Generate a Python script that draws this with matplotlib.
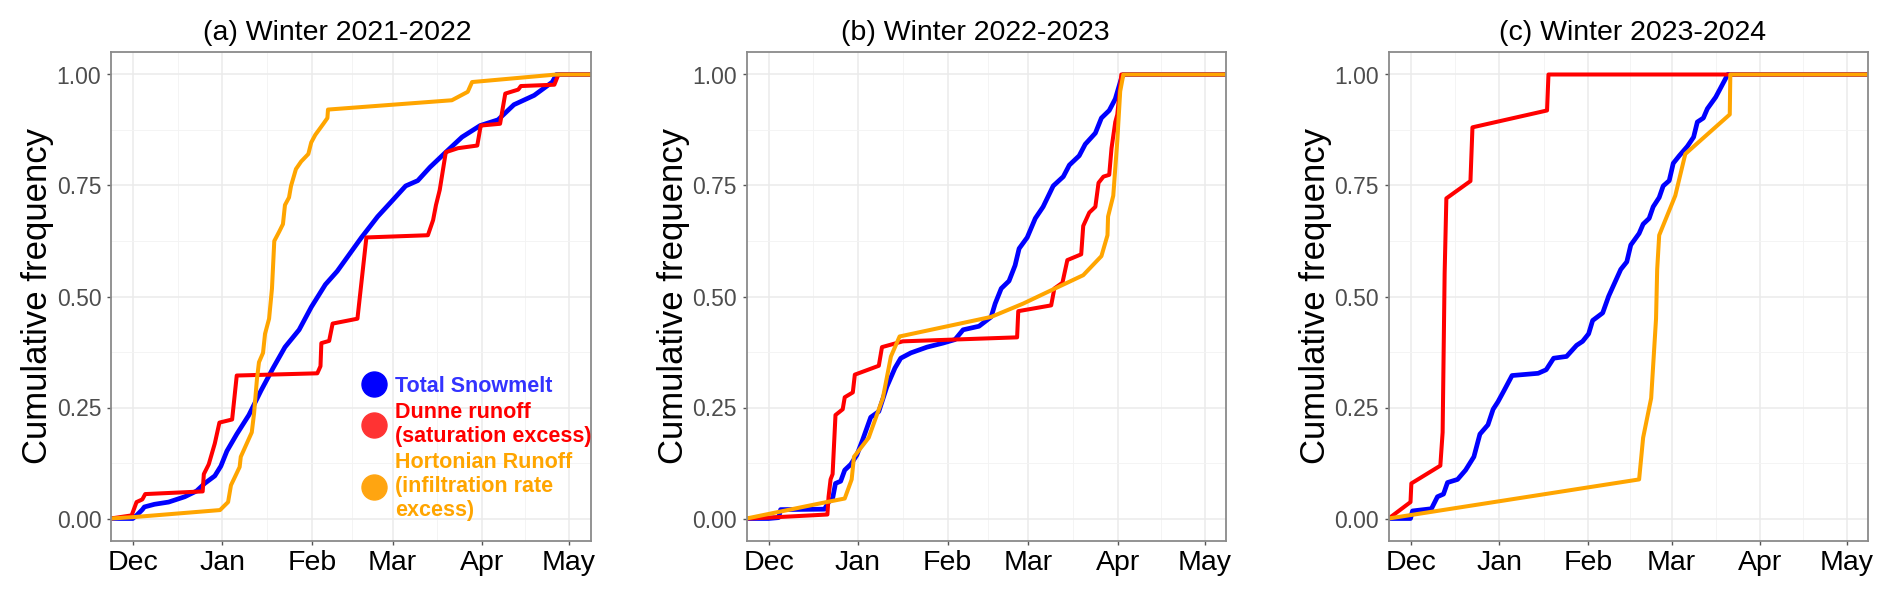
import matplotlib
matplotlib.use("Agg")
import matplotlib.pyplot as plt
from matplotlib.lines import Line2D
import pandas as pd
import numpy as np

plt.rcParams['font.family'] = ['Liberation Sans', 'DejaVu Sans']

# ---------------- data (x = days since 1 December) ----------------
titles = ["(a) Winter 2021-2022", "(b) Winter 2022-2023", "(c) Winter 2023-2024"]
start_years = [2021, 2022, 2023]
month_labels = ["Dec", "Jan", "Feb", "Mar", "Apr", "May"]
series_names = ["Total Snowmelt", "Dunne runoff\n(saturation excess)",
                "Hortonian Runoff\n(infiltration rate\nexcess)"]

# Panel (a)
snow_a_days = [-7.6, 0, 1.3, 3.3, 4, 7.5, 12.4, 18, 22.1, 24.9, 28.4, 30.5, 32.6, 36, 40.2, 44.4, 48.6,
               52.7, 57.6, 61.8, 66.7, 70.8, 75, 79.2, 84.8, 89.6, 94.5, 98.7, 102.9, 108.4, 114,
               120.3, 126.5, 132, 139, 145.3, 146.7, 160]
snow_a_vals = [0, 0, 0.007, 0.02, 0.026, 0.032, 0.037, 0.049, 0.062, 0.079, 0.096, 0.118, 0.152, 0.19,
               0.233, 0.288, 0.339, 0.386, 0.425, 0.476, 0.527, 0.557, 0.595, 0.633, 0.68, 0.714,
               0.749, 0.761, 0.791, 0.825, 0.859, 0.885, 0.898, 0.932, 0.953, 0.983, 1.0, 1.0]
dunne_a_days = [-7.6, -0.4, 1.3, 3.3, 4.3, 24.2, 24.6, 26.3, 28.4, 30, 34.4, 36, 63.9, 65, 65.3, 68,
                69.2, 77.8, 80.9, 102.2, 104, 105, 106.3, 108.4, 112.6, 119.3, 120.5, 127.2, 129,
                133.5, 134.4, 146, 147.4, 160]
dunne_a_vals = [0, 0.007, 0.037, 0.043, 0.055, 0.061, 0.1, 0.122, 0.169, 0.216, 0.223, 0.322, 0.327,
                0.343, 0.395, 0.4, 0.439, 0.45, 0.633, 0.638, 0.672, 0.706, 0.74, 0.825, 0.834, 0.84,
                0.885, 0.889, 0.957, 0.966, 0.974, 0.977, 1.0, 1.0]
horton_a_days = [-7.6, 0, 30.2, 33, 34, 35.4, 37, 37.4, 41.2, 42, 43, 43.7, 45.1, 45.8, 47.2, 48.2, 49,
                 50.7, 52, 52.7, 54.1, 54.8, 56.5, 58.3, 60.8, 61.8, 63.2, 66, 67.4, 67.6, 110.5, 116,
                 117.5, 146.7, 160]
horton_a_vals = [0, 0.003, 0.019, 0.037, 0.075, 0.094, 0.116, 0.139, 0.194, 0.237, 0.314, 0.352,
                 0.373, 0.416, 0.45, 0.518, 0.625, 0.646, 0.663, 0.706, 0.723, 0.749, 0.787, 0.804,
                 0.821, 0.847, 0.864, 0.889, 0.902, 0.921, 0.942, 0.961, 0.983, 1.0, 1.0]

# Panel (b)
snow_b_days = [-7.6, 0, 3.5, 4.2, 19.4, 20.8, 22.2, 23.2, 25, 26.4, 28.5, 30.6, 32.6, 35.4, 38.2, 41,
               43.8, 45.8, 49.3, 54.9, 60.4, 64.6, 67.4, 72.9, 77.1, 78.5, 80.6, 83.3, 85.4, 86.8,
               89.6, 92.4, 95.1, 98.6, 102.1, 104.2, 107.6, 109.7, 113.2, 115.3, 118, 120.1, 122.2,
               122.9, 160]
snow_b_vals = [0, 0, 0.002, 0.02, 0.021, 0.037, 0.045, 0.079, 0.084, 0.109, 0.122, 0.143, 0.177,
               0.228, 0.241, 0.297, 0.339, 0.361, 0.373, 0.386, 0.395, 0.403, 0.425, 0.433, 0.454,
               0.484, 0.518, 0.535, 0.57, 0.608, 0.633, 0.676, 0.702, 0.749, 0.77, 0.796, 0.817,
               0.843, 0.868, 0.902, 0.919, 0.945, 0.991, 1.0, 1.0]
dunne_b_days = [-7.6, 0, 20.4, 20.8, 21.5, 22.2, 23.2, 25.7, 26.4, 29.2, 29.9, 38.2, 39.3, 46.5, 86.1,
                86.5, 97.9, 99, 101.8, 103.5, 108.3, 109, 111.1, 113.2, 114.3, 116, 118, 118.8,
                120.1, 120.8, 122.2, 160]
dunne_b_vals = [0, 0.002, 0.009, 0.049, 0.088, 0.1, 0.233, 0.246, 0.273, 0.284, 0.324, 0.344, 0.386,
                0.399, 0.408, 0.467, 0.48, 0.518, 0.531, 0.582, 0.595, 0.659, 0.689, 0.702, 0.756,
                0.77, 0.774, 0.834, 0.893, 0.91, 1.0, 1.0]
horton_b_days = [-7.6, 20.1, 26.4, 28.8, 29.6, 34.7, 39.6, 42.4, 45.4, 77.1, 88.2, 97.9, 109, 115.3,
                 117.4, 117.6, 119.4, 120.8, 121.8, 122.9, 160]
horton_b_vals = [0, 0.037, 0.045, 0.088, 0.139, 0.182, 0.271, 0.365, 0.41, 0.454, 0.484, 0.514,
                 0.548, 0.591, 0.638, 0.68, 0.727, 0.851, 0.962, 1.0, 1.0]

# Panel (c)
snow_c_days = [-7.6, 0, 0.7, 7.3, 9.4, 11.5, 12.9, 16.4, 19.2, 22.1, 24.2, 27, 28.8, 30.5, 32.6, 35.4,
               44.5, 47.3, 49.9, 54.4, 57.9, 60, 62.1, 63.5, 67, 69.1, 71.2, 73.3, 75.4, 76.8, 79.7,
               81.1, 83.2, 84.6, 86.7, 88.1, 90.2, 91.6, 93.7, 96.5, 98.7, 100, 102.1, 103.5, 106.4,
               107.8, 110.6, 160]
snow_c_vals = [0, 0, 0.017, 0.022, 0.049, 0.055, 0.081, 0.088, 0.109, 0.139, 0.19, 0.211, 0.246,
               0.263, 0.288, 0.322, 0.327, 0.335, 0.361, 0.365, 0.39, 0.399, 0.416, 0.446, 0.463,
               0.501, 0.531, 0.561, 0.578, 0.616, 0.642, 0.663, 0.676, 0.702, 0.723, 0.749, 0.761,
               0.8, 0.817, 0.838, 0.859, 0.893, 0.902, 0.923, 0.949, 0.966, 1.0, 1.0]
dunne_c_days = [-7.6, 0, 0.3, 10.4, 11.2, 11.9, 12.5, 20.9, 21.6, 47.6, 48.1, 160]
dunne_c_vals = [0, 0.037, 0.079, 0.119, 0.194, 0.552, 0.721, 0.76, 0.881, 0.919, 1.0, 1.0]
horton_c_days = [-7.6, 79.7, 81.1, 83.9, 85.6, 86, 86.7, 92.3, 95.8, 111.3, 111.5, 160]
horton_c_vals = [0, 0.088, 0.182, 0.271, 0.45, 0.561, 0.638, 0.727, 0.821, 0.91, 1.0, 1.0]

panels = [
    [(snow_a_days, snow_a_vals), (dunne_a_days, dunne_a_vals), (horton_a_days, horton_a_vals)],
    [(snow_b_days, snow_b_vals), (dunne_b_days, dunne_b_vals), (horton_b_days, horton_b_vals)],
    [(snow_c_days, snow_c_vals), (dunne_c_days, dunne_c_vals), (horton_c_days, horton_c_vals)],
]

line_colors = ["#0000FF", "#FF0000", "#FFA500"]
line_widths = [3.4, 2.9, 2.9]
marker_colors = ["#0000FF", "#FF3333", "#FFA511"]
text_colors = ["#3333FF", "#FF0000", "#FFA500"]

# ---------------- layout ----------------
W, H = 1892, 594
fig = plt.figure(figsize=(W / 100, H / 100), dpi=100)
lefts = [111, 746.7, 1388.7]
pw = 479.6
top_px, bot_px = 52.3, 540.7
title_dx = [-0.029, -0.023, 0.009]

for i, (left, series) in enumerate(zip(lefts, panels)):
    ax = fig.add_axes([left / W, 1 - bot_px / H, pw / W, (bot_px - top_px) / H])
    y0 = start_years[i]
    base = pd.Timestamp(f"{y0}-12-01")
    month_starts = [pd.Timestamp(f"{y0}-12-01")] + [pd.Timestamp(f"{y0 + 1}-{m:02d}-01") for m in range(1, 6)]
    ticks = [(d - base).days for d in month_starts]
    L = ticks[-1]
    ax.set_xlim(-0.05 * L, 1.05 * L)
    ax.set_ylim(-0.05, 1.05)

    ax.set_xticks(ticks)
    ax.set_xticklabels(month_labels, fontsize=20.5, color="black")
    ax.set_xticks([(a + b) / 2 for a, b in zip(ticks[:-1], ticks[1:])], minor=True)
    yt = [0, 0.25, 0.5, 0.75, 1.0]
    ax.set_yticks(yt)
    ax.set_yticklabels([f"{v:.2f}" for v in yt], fontsize=16.5, color="#4D4D4D")
    ax.set_yticks([0.125, 0.375, 0.625, 0.875], minor=True)
    ax.tick_params(which="major", length=3, width=1.0, color="#555555", pad=4)
    ax.tick_params(which="minor", length=0)
    ax.grid(which="major", color="#EBEBEB", linewidth=1.1)
    ax.grid(which="minor", color="#F3F3F3", linewidth=0.6)
    ax.set_axisbelow(True)
    for sp in ax.spines.values():
        sp.set_color("#8A8A8A")
        sp.set_linewidth(1.3)

    for (d, v), c, lw in zip(series, line_colors, line_widths):
        ax.plot(d, v, color=c, linewidth=lw, solid_joinstyle="round", solid_capstyle="butt")

    ax.set_ylabel("Cumulative frequency", fontsize=25, color="black")
    ax.yaxis.set_label_coords(-0.118, 0.5)
    ax.text(0.5 + title_dx[i], 1 + 12 / (bot_px - top_px), titles[i], transform=ax.transAxes,
            ha="center", va="baseline", fontsize=20.5, color="black")

    if i == 0:
        handles = [Line2D([], [], linestyle="none", marker="o", markersize=18,
                          markerfacecolor=mc, markeredgecolor=mc) for mc in marker_colors]
        leg = ax.legend(handles, series_names, loc="upper left",
                        bbox_to_anchor=((361.5 - left) / pw, (bot_px - 376) / (bot_px - top_px)),
                        frameon=False, borderpad=0, handlelength=1.2, handletextpad=0.35,
                        labelspacing=0.22, borderaxespad=0,
                        prop={"size": 15.5, "weight": "bold"})
        for t, c in zip(leg.get_texts(), text_colors):
            t.set_color(c)
            t.set_linespacing(1.2)

fig.savefig("out.png", dpi=100)
